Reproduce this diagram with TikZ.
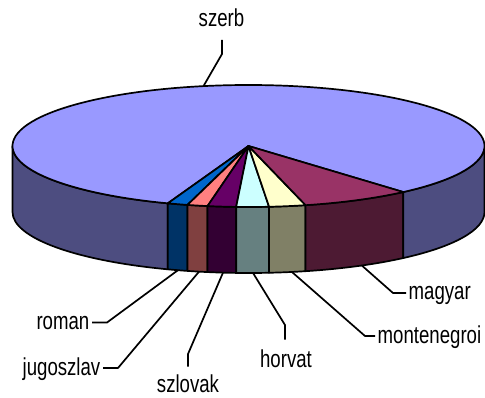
\documentclass[tikz,border=0pt]{standalone}
\usepackage{fontspec}
\setmainfont{Liberation Sans}[FakeStretch=0.76]
\definecolor{szerbT}{HTML}{9999FF}\definecolor{szerbS}{HTML}{4D4D80}
\definecolor{magyarT}{HTML}{993366}\definecolor{magyarS}{HTML}{4D1A33}
\definecolor{monteT}{HTML}{FFFFCC}\definecolor{monteS}{HTML}{808066}
\definecolor{horvatT}{HTML}{CCFFFF}\definecolor{horvatS}{HTML}{668080}
\definecolor{szlovakT}{HTML}{660066}\definecolor{szlovakS}{HTML}{330033}
\definecolor{jugoT}{HTML}{FF8080}\definecolor{jugoS}{HTML}{804040}
\definecolor{romanT}{HTML}{0066CC}\definecolor{romanS}{HTML}{003366}
\def\RX{236}\def\RY{61}\def\HH{66}
\newcommand\topslice[3]{\filldraw[pieline,fill=#3] (0,0) -- (#1:\RX pt and \RY pt) arc[start angle=#1,end angle=#2,x radius=\RX pt,y radius=\RY pt] -- cycle;}
\newcommand\sideface[3]{\filldraw[pieline,fill=#3] (#1:\RX pt and \RY pt) arc[start angle=#1,end angle=#2,x radius=\RX pt,y radius=\RY pt] -- ++(0,-\HH pt) arc[start angle=#2,end angle=#1,x radius=\RX pt,y radius=\RY pt] -- cycle;}
\tikzset{
  pieline/.style={draw=black,line width=1.7pt,line join=round},
  leader/.style={draw=black,line width=1.7pt,line join=round},
  lbl/.style={inner xsep=2.5pt,inner ysep=0pt,text height=14pt,text depth=0pt,font=\fontsize{24.5}{28}\selectfont}
}
\begin{document}
\begin{tikzpicture}[x=1pt,y=1pt]
\useasboundingbox[fill=white] (0,0) rectangle (485,-398);
\begin{scope}[shift={(248.5,-146)}]
  % side faces
  \sideface{180}{250}{szerbS}
  \sideface{250}{255}{romanS}
  \sideface{255}{260}{jugoS}
  \sideface{260}{267}{szlovakS}
  \sideface{267}{275}{horvatS}
  \sideface{275}{284}{monteS}
  \sideface{284}{311}{magyarS}
  \sideface{311}{360}{szerbS}
  % top faces
  \topslice{311}{610}{szerbT}
  \topslice{250}{255}{romanT}
  \topslice{255}{260}{jugoT}
  \topslice{260}{267}{szlovakT}
  \topslice{267}{275}{horvatT}
  \topslice{275}{284}{monteT}
  \topslice{284}{311}{magyarT}
  % leader start points
  \path (101:\RX pt and \RY pt) coordinate (s-szerb);
  \path (252.6:\RX pt and \RY pt) ++(0,-\HH pt) coordinate (s-roman);
  \path (257.9:\RX pt and \RY pt) ++(0,-\HH pt) coordinate (s-jugo);
  \path (263.8:\RX pt and \RY pt) ++(0,-\HH pt) coordinate (s-szlovak);
  \path (271.1:\RX pt and \RY pt) ++(0,-\HH pt) coordinate (s-horvat);
  \path (280.6:\RX pt and \RY pt) ++(0,-\HH pt) coordinate (s-monte);
  \path (298.7:\RX pt and \RY pt) ++(0,-\HH pt) coordinate (s-magyar);
\end{scope}
% labels
\node[lbl,anchor=south] (szerb) at (221.5,-27) {szerb};
\node[lbl,anchor=east] (roman) at (92,-322.5) {roman};
\node[lbl,anchor=east] (jugo) at (103,-368) {jugoszlav};
\node[lbl,anchor=south] (szlovak) at (188,-392.5) {szlovak};
\node[lbl,anchor=south] (horvat) at (286,-368) {horvat};
\node[lbl,anchor=west] (monte) at (375,-336) {montenegroi};
\node[lbl,anchor=west] (magyar) at (406,-293) {magyar};
% leaders
\draw[leader] (s-szerb) -- (222,-54) -- ([yshift=-13pt]szerb.south -| 222,0);
\draw[leader] (s-roman) -- (107,-322.5) -- (roman.east);
\draw[leader] (s-jugo) -- (118,-368) -- (jugo.east);
\draw[leader] (s-szlovak) -- (188,-354) -- ([yshift=11.5pt]szlovak.north);
\draw[leader] (s-horvat) -- (285,-325) -- ([yshift=14pt]horvat.north -| 285,0);
\draw[leader] (s-monte) -- (365,-336) -- (monte.west);
\draw[leader] (s-magyar) -- (393,-293) -- (magyar.west);
\end{tikzpicture}
\end{document}
